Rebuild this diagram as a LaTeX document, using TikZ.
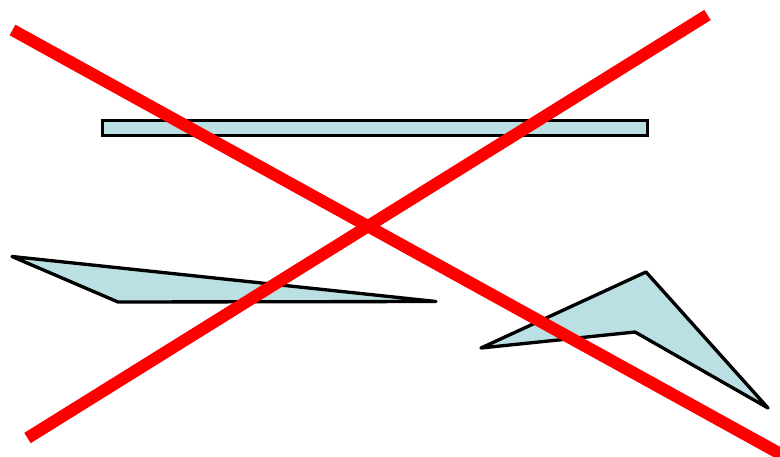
\documentclass[tikz,border=0pt]{standalone}
\usepackage{tikz}
\definecolor{shapefill}{RGB}{186,224,227}
\definecolor{crossred}{RGB}{255,0,0}
\tikzset{
  plate/.style={draw=black,fill=shapefill,line width=1.9pt,line join=round},
  cross/.style={draw=crossred,line width=6.9pt},
}
\begin{document}
\begin{tikzpicture}[x=0.02cm, y=-0.02cm]
  \useasboundingbox (0,0) rectangle (780,456);
  \clip (0,0) rectangle (780,456);
  % The shapes, behind.
  \draw[plate,line join=miter] (102.5,120.5) rectangle (647.5,135.5);
  \draw[plate] (12,256.5) -- (436,301.5) -- (118,302) -- cycle;
  \draw[plate] (481,348) -- (646,272) -- (768,408) -- (635,332) -- cycle;
  % The cross, on top.
  \draw[cross] (12.5,30) -- (786,457);
  \draw[cross] (27.5,438) -- (707.5,15);
\end{tikzpicture}
\end{document}
